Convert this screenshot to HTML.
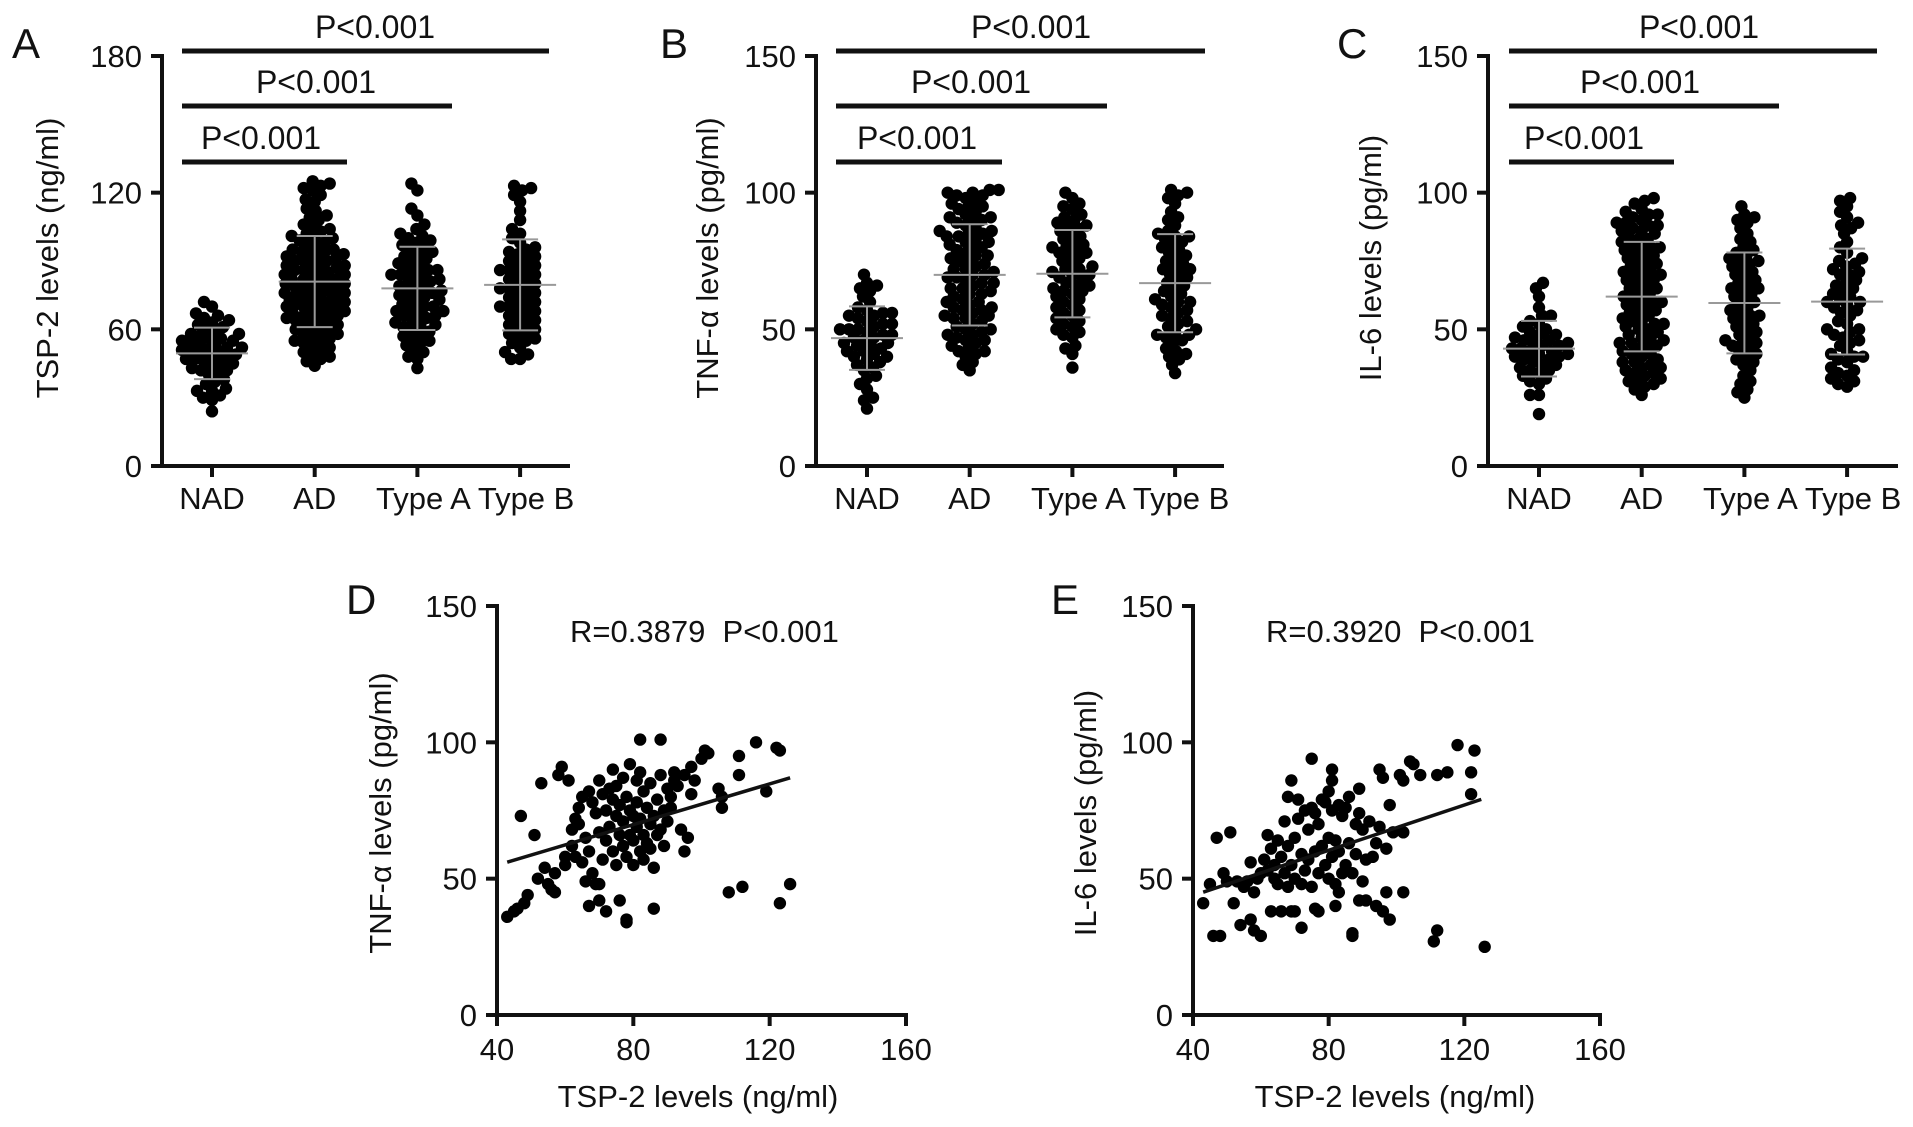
<!DOCTYPE html>
<html><head><meta charset="utf-8"><style>
html,body{margin:0;padding:0;background:#fff;}
svg{display:block;font-family:"Liberation Sans",Arial,sans-serif;}
</style></head><body>
<svg id="fig" width="1913" height="1127" viewBox="0 0 1913 1127" xmlns="http://www.w3.org/2000/svg"></svg>
<script>
// ---------- data: panel A (TSP-2, ng/ml) ----------
const groups = ["NAD","AD","Type A","Type B"];
const aNAD = [24,29,30,31,33,33,34,36,37,38,40,41,42,42,43,44,45,45,46,47,47,48,48,49,49,50,50,51,51,52,52,53,53,54,55,55,56,56,57,58,58,59,60,61,62,63,64,65,66,67,70,72];
const aAD = [44,46,47,48,49,50,51,52,53,54,55,55,56,57,58,58,59,60,60,61,62,62,63,64,64,65,65,66,67,67,68,68,69,70,70,71,71,72,72,73,73,74,75,75,76,76,77,77,78,79,79,80,80,81,81,82,82,83,84,84,85,85,86,87,87,88,88,89,90,90,91,91,92,93,93,94,95,95,96,97,98,99,100,100,101,102,103,104,105,106,108,109,110,112,113,116,117,119,121,122,123,124,125,66,70,74,78,82,86,90,94];
const aTA = [43,47,48,50,51,53,54,55,56,57,58,59,60,61,62,62,63,64,65,66,66,67,68,69,70,70,71,72,73,74,74,75,76,77,78,78,79,80,81,82,82,83,84,85,86,86,87,88,89,90,91,92,93,94,95,96,97,98,99,100,101,102,104,106,110,113,121,124,68,76,84];
const aTB = [47,47,49,50,52,54,55,56,57,58,59,60,61,62,63,64,65,66,67,68,69,70,71,72,73,74,75,76,77,78,79,80,81,82,83,84,85,86,87,88,89,90,91,92,93,94,95,96,98,100,102,104,108,112,116,119,121,122,123,70,78,86];
// ---------- data: panel B (TNF-alpha, pg/ml) ----------
const bNAD = [21,24,25,28,30,32,33,35,36,37,38,39,40,40,41,42,42,43,44,45,45,46,47,47,48,48,49,50,50,51,52,52,53,54,55,55,56,57,58,60,62,64,65,66,67,70,44,50,56];
const bAD = [35,37,38,40,41,42,43,44,45,46,47,48,49,50,50,51,52,53,54,55,55,56,57,58,59,60,60,61,62,63,64,65,65,66,67,68,69,70,70,71,72,73,74,75,75,76,77,78,79,80,80,81,82,83,84,85,85,86,87,88,89,90,90,91,92,93,94,95,96,97,98,99,100,100,101,101,42,48,54,58,63,67,72,77,82,86,91,95,99,46,57,69,84];
const bTA = [36,41,43,44,47,48,49,50,51,52,53,54,55,56,57,58,59,60,61,62,63,64,65,66,66,67,68,69,70,70,71,72,73,74,75,76,77,78,78,79,80,81,82,83,84,85,86,87,88,89,90,91,92,94,95,96,98,100,64,72,80,88];
const bTB = [34,37,39,40,41,42,43,45,46,47,48,49,50,51,52,53,54,55,56,57,58,59,60,61,62,63,64,65,66,67,68,69,70,71,72,73,74,75,76,77,78,79,80,81,82,83,84,85,86,88,90,91,93,96,98,99,100,101,48,60,72,84];
// ---------- data: panel C (IL-6, pg/ml) ----------
const cNAD = [19,26,26,30,31,32,33,34,35,35,36,37,37,38,39,39,40,40,41,41,42,42,43,43,44,44,45,45,46,46,47,48,48,49,50,51,52,53,55,55,58,62,65,67];
const cAD = [26,28,29,30,31,32,33,34,35,36,37,38,39,40,41,42,43,44,45,46,47,48,49,50,51,52,53,54,55,56,57,58,59,60,61,62,63,64,65,66,67,68,69,70,71,72,73,74,75,76,77,78,79,80,81,82,83,84,85,86,87,88,89,90,91,92,93,94,96,97,98,31,34,38,41,44,47,50,53,56,59,62,65,68,71,74,77,80,83,86,89,92,36,45,52,60,70,80,88];
const cTA = [25,27,28,30,31,33,35,37,38,39,40,41,42,43,44,45,46,47,48,49,50,51,52,53,54,55,56,57,58,59,60,61,62,63,64,65,66,67,68,69,70,71,72,73,74,75,76,77,78,79,80,82,83,85,87,89,90,91,92,95,45,55,65,75];
const cTB = [29,30,31,32,33,34,35,36,38,39,40,41,42,44,45,46,47,48,49,50,52,53,55,56,57,58,59,60,61,62,63,64,65,66,67,68,70,71,72,73,74,75,76,78,80,82,85,87,88,89,91,93,95,97,98,40,50,60,70];
// ---------- data: panel D (TSP-2 vs TNF-alpha) ----------
const dX = [43,45,46,48,49,47,51,52,53,54,55,56,57,57,58,59,60,60,61,62,62,63,63,64,64,65,65,66,66,67,67,68,68,69,69,70,70,70,71,71,72,72,72,73,73,74,74,74,75,75,75,76,76,76,77,77,77,78,78,78,79,79,79,80,80,80,81,81,81,82,82,82,83,83,83,84,84,85,85,85,86,86,87,87,88,88,89,89,90,90,91,91,92,92,93,94,95,95,96,97,97,98,100,101,102,105,106,106,108,111,111,112,116,119,122,123,123,126,82,88,78,70,67,86];
const dY = [36,38,39,41,44,73,66,50,85,54,48,46,52,45,88,91,58,55,86,62,68,72,58,70,76,56,80,49,65,60,82,78,52,74,48,67,86,42,81,57,75,64,38,83,69,79,60,90,73,55,84,42,66,77,71,62,87,34,80,58,75,66,92,73,64,55,69,86,78,60,89,72,66,82,57,63,76,70,61,85,73,54,66,79,68,88,75,62,83,71,80,76,86,89,84,68,60,88,65,81,91,86,94,97,96,83,80,76,45,95,88,47,100,82,98,97,41,48,101,101,35,48,40,39];
const dFit = [40.0, 0.373];   // intercept, slope
const dRange = [43, 126];
// ---------- data: panel E (TSP-2 vs IL-6) ----------
const eX = [43,46,48,47,51,52,54,57,58,60,72,87,87,111,112,126,118,123,122,122,115,112,107,105,104,101,102,95,96,89,75,81,81,69,68,71,98,99,102,97,102,97,98,96,94,91,89,83,82,77,76,66,69,70,63,58,56,50,53,45,60,61,62,63,64,64,65,65,66,67,67,68,68,69,70,70,71,72,72,73,73,74,74,75,75,76,76,77,77,78,78,79,79,80,80,80,81,81,82,82,83,83,84,84,85,85,86,86,87,88,88,89,90,90,91,92,93,94,95,57,59,62,55,49];
const eY = [41,29,29,65,67,41,33,35,31,29,32,30,29,27,31,25,99,97,89,81,89,88,88,92,93,88,86,90,87,83,94,90,86,86,80,79,77,67,67,61,45,45,35,38,40,42,42,45,40,38,39,38,38,38,38,45,49,49,49,48,52,57,66,61,50,55,64,48,58,52,71,62,47,55,65,50,72,59,48,75,53,68,57,76,47,60,74,52,70,62,79,55,78,50,65,82,58,75,64,48,77,60,73,52,76,55,80,63,52,70,59,74,49,68,57,71,58,63,69,56,50,53,47,52];
const eFit = [27.2, 0.415];
const eRange = [43, 125];
const yTicksA = [0,60,120,180];
const yTicks150 = [0,50,100,150];
const xTicksScatter = [40,80,120,160];

const NS = "http://www.w3.org/2000/svg";
const svg = document.getElementById("fig");
function mk(tag, attrs, parent){
  const e = document.createElementNS(NS, tag);
  for (const k in attrs) e.setAttribute(k, attrs[k]);
  (parent||svg).appendChild(e);
  return e;
}
function txt(s, x, y, size, anchor, parent, rot){
  const t = mk("text", {x:x, y:y, "font-size":size, "text-anchor":anchor||"middle", fill:"#111"}, parent);
  if (rot) t.setAttribute("transform", "rotate(-90 "+x+" "+y+")");
  t.textContent = s;
  return t;
}
const R = 6.2;
const MAXOFF = 30;

function dotPanel(cfg){
  const g = mk("g", {});
  
  
  const ys = v => cfg.y0 - (v/cfg.max)*(cfg.y0-cfg.yTop);
  const cx = i => cfg.cx0 + i*cfg.dcx;
  const L = txt(cfg.letter, cfg.letterX, 58, 42, "start", g);
  
  
  cfg.data.forEach((vals, gi) => {
    const gg = mk("g", {fill:"#000"}, g);
    
    
    const sorted = vals.slice().sort((a,b)=>a-b);
    const placed = [];
    const thr = 2*R*0.7;
    sorted.forEach(v => {
      const y = ys(v);
      let best = null, bestScore = -1, bestOff = 0;
      for (let k=0;k<=2*MAXOFF;k++){
        const off = (k%2===0?1:-1)*Math.ceil(k/2);
        let md = 1e9;
        for (const p of placed){
          const dx=p[0]-off, dy=p[1]-y;
          const d = Math.sqrt(dx*dx+dy*dy);
          if (d<md) md=d;
        }
        if (md >= thr){best=off;break;}
        if (md > bestScore){bestScore=md;bestOff=off;}
      }
      if (best===null) best = bestOff;
      placed.push([best,y]);
      const c = mk("circle", {cx:cx(gi)+best, cy:y, r:R}, gg);
      
      
    });
    const n = vals.length, m = vals.reduce((a,b)=>a+b,0)/n;
    const sd = Math.sqrt(vals.reduce((a,b)=>a+(b-m)*(b-m),0)/(n-1));
    const ms = mk("g", {stroke:"#999", "stroke-width":2}, g);
    
    
    mk("line", {x1:cx(gi)-36, x2:cx(gi)+36, y1:ys(m), y2:ys(m)}, ms);
    mk("line", {x1:cx(gi)-18, x2:cx(gi)+18, y1:ys(m+sd), y2:ys(m+sd)}, ms);
    mk("line", {x1:cx(gi)-18, x2:cx(gi)+18, y1:ys(m-sd), y2:ys(m-sd)}, ms);
    mk("line", {x1:cx(gi), x2:cx(gi), y1:ys(m+sd), y2:ys(m-sd)}, ms);
  });
  const ax = mk("g", {stroke:"#111", "stroke-width":4, fill:"none"}, g);
  
  
  mk("line", {x1:cfg.ax, x2:cfg.ax, y1:cfg.yTop-2, y2:cfg.y0+2}, ax);
  mk("line", {x1:cfg.ax-2, x2:cfg.axEnd, y1:cfg.y0, y2:cfg.y0}, ax);
  cfg.ticks.forEach(t => {
    mk("line", {x1:cfg.ax-11, x2:cfg.ax, y1:ys(t), y2:ys(t)}, ax);
    const tl = txt(String(t), cfg.ax-20, ys(t)+11, 31, "end", g);
    
    
  });
  groups.forEach((name, i) => {
    mk("line", {x1:cx(i), x2:cx(i), y1:cfg.y0, y2:cfg.y0+11}, ax);
    const cl = txt(name, cx(i)+(i>=2?6:0), 509, 31, "middle", g);
    
    
  });
  const yt = txt(cfg.ytitle, cfg.ytX, 258, 31, "middle", g, true);
  
  
  cfg.bars.forEach((b, i) => {
    const bg = mk("g", {}, g);
    
    
    mk("line", {x1:b[0], x2:b[1], y1:b[2], y2:b[2], stroke:"#111", "stroke-width":5}, bg);
    txt("P<0.001", b[3], b[2]-13, 32, "middle", bg);
  });
}

dotPanel({name:"panel-a", letter:"A", letterX:12, ax:162, axEnd:570, y0:466, yTop:56, max:180,
  cx0:212, dcx:102.7, ticks:yTicksA, ytitle:"TSP-2 levels (ng/ml)", ytX:58,
  data:[aNAD,aAD,aTA,aTB],
  bars:[[182,549,51,375],[182,452,106,316],[182,347,162,261]]});
dotPanel({name:"panel-b", letter:"B", letterX:660, ax:816, axEnd:1224, y0:466, yTop:56, max:150,
  cx0:867, dcx:102.7, ticks:yTicks150, ytitle:"TNF-α levels (pg/ml)", ytX:718,
  data:[bNAD,bAD,bTA,bTB],
  bars:[[836,1205,51,1031],[836,1107,106,971],[836,1002,162,917]]});
dotPanel({name:"panel-c", letter:"C", letterX:1337, ax:1488, axEnd:1898, y0:466, yTop:56, max:150,
  cx0:1539, dcx:102.7, ticks:yTicks150, ytitle:"IL-6 levels (pg/ml)", ytX:1381,
  data:[cNAD,cAD,cTA,cTB],
  bars:[[1509,1877,51,1699],[1509,1779,106,1640],[1509,1674,162,1584]]});

function scatterPanel(cfg){
  const g = mk("g", {});
  
  
  const xs = v => cfg.ax + (v-40)/120*(cfg.axEnd-cfg.ax);
  const ys = v => cfg.y0 - v/150*(cfg.y0-cfg.yTop);
  const L = txt(cfg.letter, cfg.letterX, 614, 42, "start", g);
  
  
  const pts = mk("g", {fill:"#000"}, g);
  
  
  const n = Math.min(cfg.X.length, cfg.Y.length);
  for (let i=0;i<n;i++){
    const c = mk("circle", {cx:xs(cfg.X[i]), cy:ys(cfg.Y[i]), r:R}, pts);
    
    
  }
  const f = cfg.fit, r = cfg.range;
  const fl = mk("line", {x1:xs(r[0]), y1:ys(f[0]+f[1]*r[0]), x2:xs(r[1]), y2:ys(f[0]+f[1]*r[1]), stroke:"#111", "stroke-width":3.5}, g);
  
  
  const ax = mk("g", {stroke:"#111", "stroke-width":4}, g);
  
  
  mk("line", {x1:cfg.ax, x2:cfg.ax, y1:cfg.yTop-2, y2:cfg.y0+2}, ax);
  mk("line", {x1:cfg.ax-2, x2:cfg.axEnd+2, y1:cfg.y0, y2:cfg.y0}, ax);
  yTicks150.forEach(t => {
    mk("line", {x1:cfg.ax-11, x2:cfg.ax, y1:ys(t), y2:ys(t)}, ax);
    const tl = txt(String(t), cfg.ax-20, ys(t)+11, 31, "end", g);
    
    
  });
  xTicksScatter.forEach(t => {
    mk("line", {x1:xs(t), x2:xs(t), y1:cfg.y0, y2:cfg.y0+11}, ax);
    const tl = txt(String(t), xs(t), 1060, 31, "middle", g);
    
    
  });
  const xt = txt("TSP-2 levels (ng/ml)", cfg.xtX, 1107, 31, "middle", g);
  
  
  const yt = txt(cfg.ytitle, cfg.ytX, 813, 31, "middle", g, true);
  
  
  const st = txt(cfg.stat, cfg.statX, 642, 31, "start", g);
  
  
  st.style.whiteSpace = 'pre';
}
scatterPanel({name:"panel-d", letter:"D", letterX:346, ax:497, axEnd:906, y0:1015, yTop:606,
  X:dX, Y:dY, fit:dFit, range:dRange, ytitle:"TNF-α levels (pg/ml)", ytX:391, xtX:698,
  stat:"R=0.3879  P<0.001", statX:570});
scatterPanel({name:"panel-e", letter:"E", letterX:1051, ax:1193, axEnd:1600, y0:1015, yTop:606,
  X:eX, Y:eY, fit:eFit, range:eRange, ytitle:"IL-6 levels (pg/ml)", ytX:1096, xtX:1395,
  stat:"R=0.3920  P<0.001", statX:1266});
</script>
</body></html>
